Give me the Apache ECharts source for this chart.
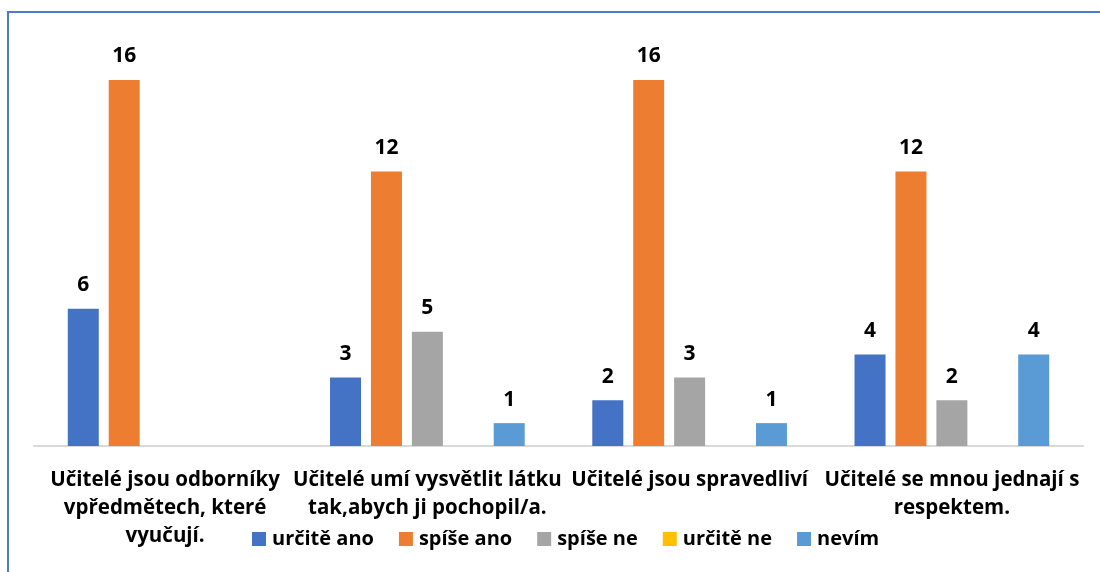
<!DOCTYPE html>
<html>
<head>
<meta charset="utf-8">
<script src="https://cdn.jsdelivr.net/npm/echarts@6/dist/echarts.min.js"></script>
<style>
  html, body { margin: 0; padding: 0; background: #fff; }
  #wrap { position: relative; width: 1100px; height: 572px; }
  #chart { width: 1100px; height: 572px; }
  #frame {
    position: absolute; left: 7px; top: 11px; right: 0; bottom: 0;
    border-left: 2px solid #4a7cc9; border-top: 2px solid #4a7cc9;
    pointer-events: none;
  }
</style>
</head>
<body>
<div id="wrap">
  <div id="chart"></div>
  <div id="frame"></div>
</div>
<script>
  // kategorie (otázky)
  const categories = [
    "Učitelé jsou odborníky\nvpředmětech, které\nvyučují.",
    "Učitelé umí vysvětlit látku\ntak,abych ji pochopil/a.",
    "Učitelé jsou spravedliví",
    "Učitelé se mnou jednají s\nrespektem."
  ];
  const seriesNames = ["určitě ano", "spíše ano", "spíše ne", "určitě ne", "nevím"];
  const urciteAno = [6, 3, 2, 4];
  const spiseAno = [16, 12, 16, 12];
  const spiseNe = [0, 5, 3, 2];
  const urciteNe = [0, 0, 0, 0];
  const nevim = [0, 1, 1, 4];
  const colors = ["#4472c4", "#ed7d31", "#a5a5a5", "#ffc000", "#5b9bd5"];

  const font = "'Open Sans', sans-serif";
  const allData = [urciteAno, spiseAno, spiseNe, urciteNe, nevim];

  const chart = echarts.init(document.getElementById("chart"));
  chart.setOption({
    animation: false,
    color: colors,
    grid: { left: 34, right: 17, top: 80, bottom: 126 },
    legend: {
      left: 252,
      top: 529,
      padding: 0,
      itemWidth: 14,
      itemHeight: 14,
      itemGap: 25,
      icon: "rect",
      textStyle: { fontFamily: font, fontWeight: "bold", fontSize: 20, color: "#000", padding: [0, 0, 0, 1] },
      data: seriesNames
    },
    xAxis: {
      type: "category",
      data: categories,
      axisLine: { lineStyle: { color: "#d9d9d9", width: 2 } },
      axisTick: { show: false },
      axisLabel: {
        interval: 0,
        margin: 20,
        lineHeight: 28,
        fontFamily: font,
        fontWeight: "bold",
        fontSize: 20.5,
        color: "#000"
      }
    },
    yAxis: {
      type: "value",
      min: 0,
      max: 16,
      show: false,
      splitLine: { show: false }
    },
    series: allData.map((d, i) => ({
      name: seriesNames[i],
      type: "bar",
      data: d,
      barWidth: 31,
      barGap: "32%",
      label: {
        show: true,
        position: "top",
        distance: 13,
        fontFamily: font,
        fontWeight: "bold",
        fontSize: 21,
        color: "#000",
        formatter: p => (p.value ? p.value : "")
      }
    }))
  });
</script>
</body>
</html>
